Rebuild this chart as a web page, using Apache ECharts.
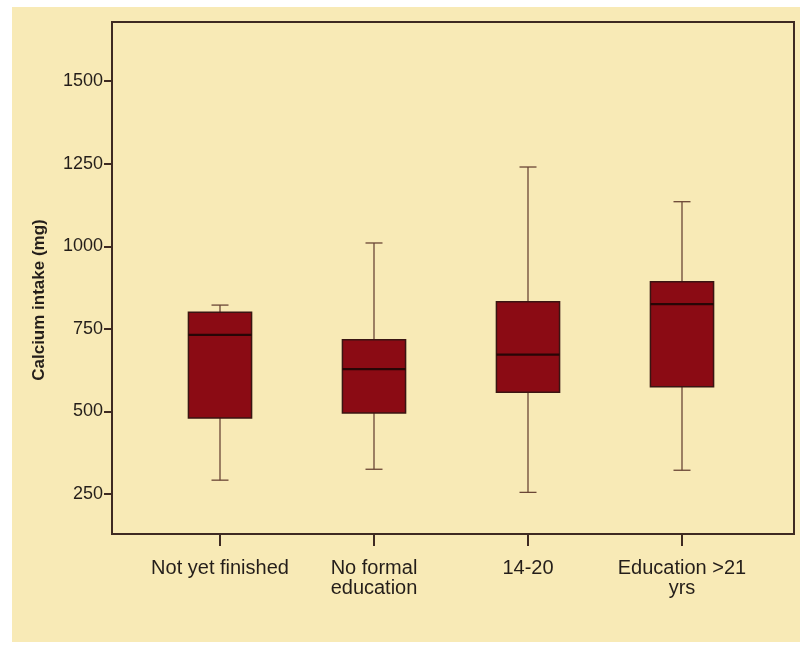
<!DOCTYPE html>
<html>
<head>
<meta charset="utf-8">
<title>Calcium intake by education</title>
<script src="https://cdn.jsdelivr.net/npm/echarts@6/dist/echarts.min.js"></script>
<style>
  html, body { margin: 0; padding: 0; background: #ffffff; }
  #chart { width: 800px; height: 645px; }
</style>
</head>
<body>
<div id="chart"></div>
<script>
// Education groups shown along the x axis
const categories = ['Not yet finished', 'No formal\neducation', '14-20', 'Education >21\nyrs'];
// Five-number summaries of calcium intake (mg) per group
const whiskerLow  = [292, 325, 255, 322];
const quartile1   = [480, 495, 558, 575];
const medians     = [732, 628, 672, 825];
const quartile3   = [800, 717, 832, 893];
const whiskerHigh = [822, 1010, 1240, 1135];
// Labelled ticks on the value axis
const yTicks = [250, 500, 750, 1000, 1250, 1500];

const yMin = 129, yMax = 1679;
const font = "'Liberation Sans', Arial, sans-serif";
const ink = '#241e1a';
const frameColor = '#3e2a22';

const boxData = categories.map((c, i) =>
  [i, whiskerLow[i], quartile1[i], medians[i], quartile3[i], whiskerHigh[i]]);

function renderBox(params, api) {
  const idx = api.value(0);
  const lo  = api.coord([idx, api.value(1)]);
  const q1  = api.coord([idx, api.value(2)]);
  const med = api.coord([idx, api.value(3)]);
  const q3  = api.coord([idx, api.value(4)]);
  const hi  = api.coord([idx, api.value(5)]);
  const cx = lo[0];
  const band = api.size([1, 0])[0];
  const half = band * 0.205;
  const cap = 8.5;
  const whiskerStyle = { stroke: '#6a4636', lineWidth: 1.3 };
  return {
    type: 'group',
    children: [
      { type: 'line', shape: { x1: cx, y1: hi[1], x2: cx, y2: q3[1] }, style: whiskerStyle },
      { type: 'line', shape: { x1: cx - cap, y1: hi[1], x2: cx + cap, y2: hi[1] }, style: whiskerStyle },
      { type: 'line', shape: { x1: cx, y1: q1[1], x2: cx, y2: lo[1] }, style: whiskerStyle },
      { type: 'line', shape: { x1: cx - cap, y1: lo[1], x2: cx + cap, y2: lo[1] }, style: whiskerStyle },
      { type: 'rect',
        shape: { x: cx - half, y: q3[1], width: half * 2, height: q1[1] - q3[1] },
        style: { fill: '#8b0b14', stroke: '#3a1512', lineWidth: 1.5 } },
      { type: 'line', shape: { x1: cx - half, y1: med[1], x2: cx + half, y2: med[1] },
        style: { stroke: '#280606', lineWidth: 2.2 } }
    ]
  };
}

const chart = echarts.init(document.getElementById('chart'), null, { renderer: 'canvas' });
chart.setOption({
  backgroundColor: '#ffffff',
  animation: false,
  graphic: [{
    type: 'rect', z: -10, silent: true,
    shape: { x: 12, y: 7, width: 788, height: 635 },
    style: { fill: '#f8eab6' }
  }],
  grid: [
    { left: 112, right: 6, top: 22, bottom: 111, show: true,
      borderColor: frameColor, borderWidth: 2, backgroundColor: 'transparent' },
    { left: 143, right: 41, top: 22, bottom: 111 }
  ],
  xAxis: [
    { gridIndex: 0, type: 'value', min: 0, max: 1, show: false },
    { gridIndex: 1, type: 'category', data: categories, boundaryGap: true,
      axisLine: { show: false },
      axisTick: { show: true, alignWithLabel: true, length: 12, lineStyle: { color: frameColor, width: 2 } },
      axisLabel: { margin: 24, color: ink, fontFamily: font, fontSize: 20, lineHeight: 20, interval: 0 },
      splitLine: { show: false } }
  ],
  yAxis: [
    { gridIndex: 0, type: 'value', min: yMin, max: yMax,
      name: 'Calcium intake (mg)', nameLocation: 'middle', nameGap: 64, nameRotate: 90,
      nameTextStyle: { color: ink, fontFamily: font, fontSize: 17, fontWeight: 'bold', padding: [0, 44, 0, 0] },
      axisLine: { show: false },
      axisTick: { show: true, length: 8, customValues: yTicks, lineStyle: { color: frameColor, width: 2 } },
      axisLabel: { margin: 9, color: ink, fontFamily: font, fontSize: 18, customValues: yTicks,
        formatter: v => String(v) },
      splitLine: { show: false } },
    { gridIndex: 1, type: 'value', min: yMin, max: yMax, show: false, splitLine: { show: false } }
  ],
  series: [{
    type: 'custom',
    name: 'Calcium intake',
    xAxisIndex: 1,
    yAxisIndex: 1,
    renderItem: renderBox,
    encode: { x: 0, y: [1, 2, 3, 4, 5] },
    data: boxData
  }]
});
</script>
</body>
</html>
